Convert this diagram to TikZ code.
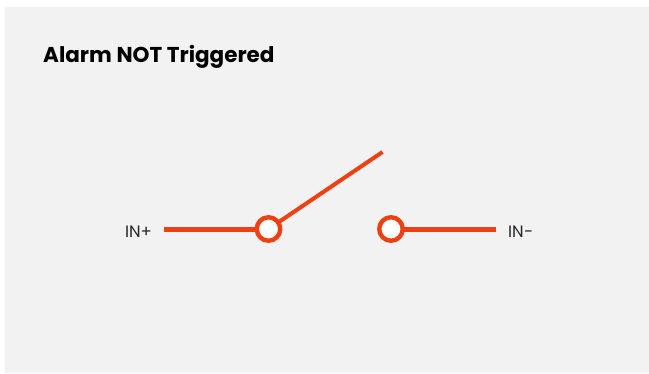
\documentclass[tikz,border=0pt]{standalone}
\usepackage{fontspec}
\setmainfont{Poppins}
\usetikzlibrary{positioning}
\definecolor{panelgray}{HTML}{F2F2F2}
\definecolor{wireorange}{HTML}{EE4013}
\tikzset{
  wire/.style={draw=wireorange, line width=5pt},
  lever/.style={draw=wireorange, line width=4pt},
  terminal/.style={draw=wireorange, fill=white, circle, line width=4.4pt, minimum size=23.5pt, inner sep=0pt},
  pinlabel/.style={font=\fontsize{16.5}{18}\selectfont, text=black!85, inner sep=0pt}
}

\begin{document}
\begin{tikzpicture}[x=1pt, y=1pt]
\useasboundingbox (0, 0) rectangle (649, 373);
\fill[white] (0, 0) rectangle (649, 373);
\fill[panelgray] (5, 0) rectangle (649, 366);

\node[anchor=west, inner sep=0pt, font=\fontsize{21.5}{24}\selectfont\bfseries] (title) at (43, 316) {Alarm NOT Triggered};

\coordinate (wireleft) at (164, 144);
\coordinate (wireright) at (496, 144);
\coordinate (levertip) at (382.5, 221);

\draw[wire] (wireleft) -- (268.5, 144) coordinate (pivotcentre);
\draw[wire] (391, 144) coordinate (contactcentre) -- (wireright);
\draw[lever] (pivotcentre) -- (levertip);

\node[terminal] (pivot) at (pivotcentre) {};
\node[terminal] (contact) at (contactcentre) {};

\node[pinlabel] (inplus) at (138.5, 141.5) {IN+};
\node[pinlabel] (inminus) at (520.5, 141.5) {IN−};
\end{tikzpicture}
\end{document}
